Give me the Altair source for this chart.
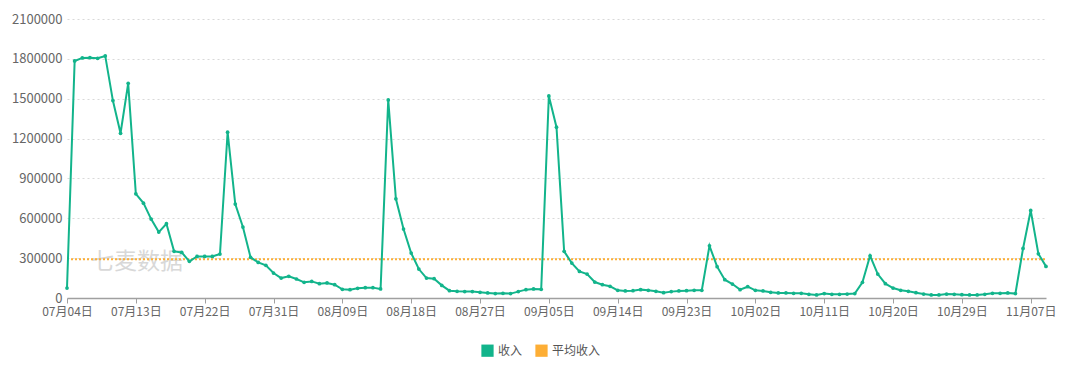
import altair as alt
import pandas as pd

start_date = "2023-07-04"
income = [
    75000, 1784000, 1807000, 1809000, 1804000, 1822000, 1486000, 1240000, 1616000, 784000,
    714000, 594000, 496000, 559000, 351000, 343000, 276000, 313000, 313000, 313000,
    331000, 1248000, 707000, 534000, 306000, 268000, 246000, 188000, 150000, 163000,
    143000, 118000, 125000, 108000, 113000, 100000, 65000, 63000, 73000, 78000,
    78000, 68000, 1491000, 747000, 519000, 338000, 218000, 150000, 145000, 95000,
    55000, 50000, 48000, 48000, 43000, 38000, 33000, 35000, 33000, 48000,
    63000, 68000, 65000, 1521000, 1286000, 351000, 263000, 200000, 180000, 120000,
    100000, 88000, 58000, 53000, 55000, 63000, 58000, 50000, 40000, 48000,
    53000, 55000, 58000, 58000, 393000, 236000, 138000, 105000, 63000, 85000,
    58000, 53000, 43000, 38000, 38000, 35000, 35000, 28000, 23000, 33000,
    28000, 28000, 30000, 33000, 118000, 318000, 180000, 108000, 75000, 58000,
    50000, 40000, 30000, 23000, 23000, 30000, 28000, 25000, 23000, 23000,
    28000, 35000, 35000, 38000, 33000, 373000, 659000, 333000, 238000,
]
avg_income = 292000
series_names = ["收入", "平均收入"]
series_colors = ["#12b48b", "#fdae35"]
y_ticks = [0, 300000, 600000, 900000, 1200000, 1500000, 1800000, 2100000]
x_tick_dates = ["2023-07-04", "2023-07-13", "2023-07-22", "2023-07-31", "2023-08-09",
                "2023-08-18", "2023-08-27", "2023-09-05", "2023-09-14", "2023-09-23",
                "2023-10-02", "2023-10-11", "2023-10-20", "2023-10-29", "2023-11-07"]

dates = pd.date_range(start_date, periods=len(income), freq="D")
date_strs = [d.strftime("%Y-%m-%d") for d in dates]
df = pd.DataFrame({"date": date_strs, "value": income, "series": series_names[0]})
avg_df = pd.DataFrame({"date": [date_strs[0], date_strs[-1]],
                       "value": [avg_income, avg_income], "series": series_names[1]})
both_df = pd.concat([df, avg_df], ignore_index=True)


def ms(s):
    return int(pd.Timestamp(s, tz="UTC").timestamp() * 1000)


x_scale = alt.Scale(type="utc", domain=[ms(date_strs[0]), ms(date_strs[-1])], nice=False)
y_scale = alt.Scale(domain=[0, 2100000], nice=False)
color_scale = alt.Scale(domain=series_names, range=series_colors)

font = "Noto Sans CJK SC"

x_enc = alt.X("date:T", scale=x_scale, title=None,
              axis=alt.Axis(values=[ms(d) for d in x_tick_dates],
                            labelExpr="utcFormat(datum.value, '%m月%d日')",
                            labelFont=font, labelFontSize=12,
                            labelColor="#666666", domainColor="#a0a0a0", domainWidth=1.5,
                            tickColor="#a0a0a0", tickSize=5, grid=False, labelPadding=3,
                            labelFlush=False))
y_enc = alt.Y("value:Q", scale=y_scale, title=None,
              axis=alt.Axis(values=y_ticks, format="d", labelFont=font, labelFontSize=13,
                            labelColor="#666666", domain=False, ticks=False, labelPadding=5,
                            gridColor="#d9d9d9", gridDash=[2, 3], gridWidth=1))
legend = alt.Legend(title=None, orient="none", direction="horizontal", legendX=414,
                    legendY=325, symbolType="square", symbolSize=150, symbolStrokeWidth=0,
                    symbolOpacity=1, labelFont=font, labelFontSize=12, labelColor="#555555",
                    columnPadding=12, symbolOffset=0)

legend_layer = alt.Chart(both_df).mark_point(filled=True, shape="square", opacity=0, size=1).encode(
    x=x_enc, y=y_enc,
    color=alt.Color("series:N", scale=color_scale, legend=legend),
)
avg_line = alt.Chart(avg_df).mark_line(strokeWidth=2, strokeDash=[2, 2]).encode(
    x=x_enc, y=y_enc,
    color=alt.Color("series:N", scale=color_scale, legend=None),
)
main_line = alt.Chart(df).mark_line(strokeWidth=2, point=alt.OverlayMarkDef(size=14, filled=True)).encode(
    x=x_enc, y=y_enc,
    color=alt.Color("series:N", scale=color_scale, legend=None),
)
watermark = alt.Chart(pd.DataFrame({"t": ["七麦数据"]})).mark_text(
    font=font, fontSize=23, color="#cfcfcf", align="center", baseline="middle", opacity=0.8
).encode(text="t:N", x=alt.value(70), y=alt.value(243))

chart = alt.layer(watermark, legend_layer, avg_line, main_line).properties(
    width=979, height=279,
    autosize=alt.AutoSizeParams(type="none"),
    padding={"left": 59, "top": 11, "right": 26, "bottom": 60},
).configure_view(stroke=None)

chart.save("out.html", embed_options={"renderer": "svg", "actions": False})
